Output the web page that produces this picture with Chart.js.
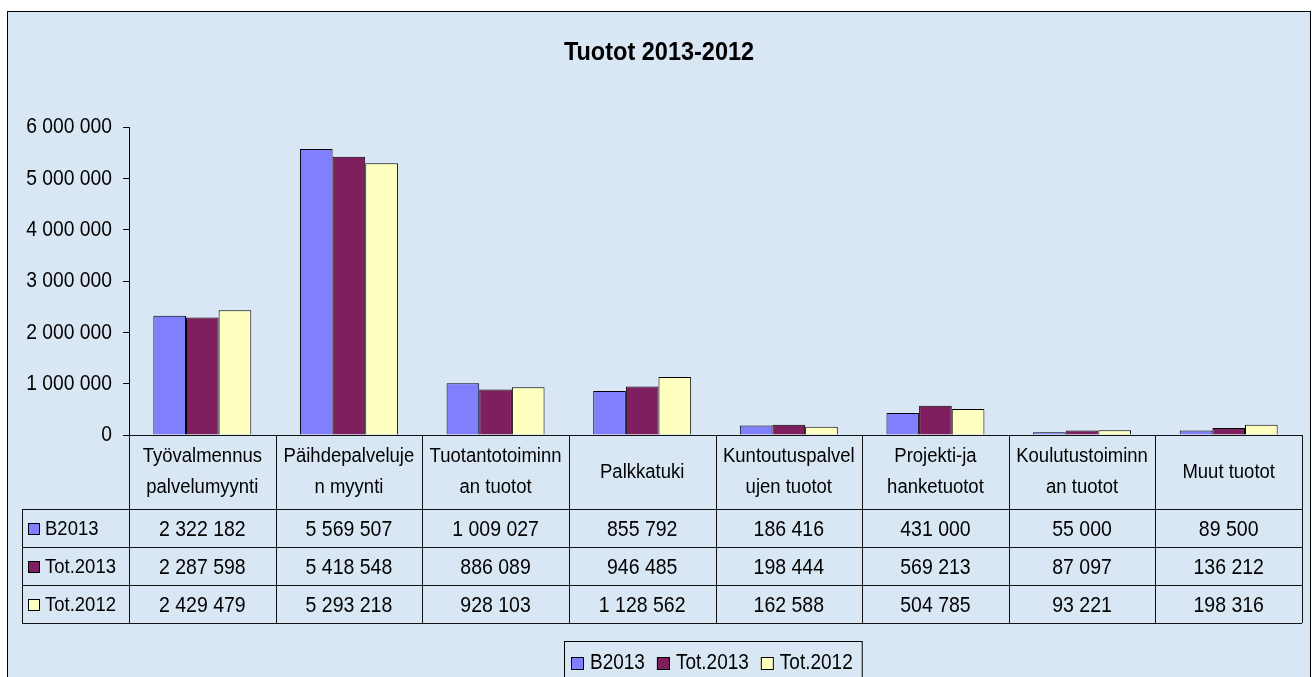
<!DOCTYPE html>
<html>
<head>
<meta charset="utf-8">
<script src="https://cdn.jsdelivr.net/npm/chart.js@4.4.1/dist/chart.umd.min.js"></script>
<style>
  html, body { margin: 0; padding: 0; background: #fff; overflow: hidden; }
  #frame {
    position: absolute; left: 7px; top: 11px; width: 1302px; height: 680px;
    border: 1px solid #000;
    background: #d9e7f5;
  }
  #chart { position: absolute; left: 0; top: 0; }
</style>
</head>
<body>
<div id="frame"></div>
<canvas id="chart" width="1312" height="677"></canvas>
<script>
// Tuotot 2013-2012
const chartTitle = 'Tuotot 2013-2012';
const categories = [
  ['Työvalmennus', 'palvelumyynti'],
  ['Päihdepalveluje', 'n myynti'],
  ['Tuotantotoiminn', 'an tuotot'],
  ['Palkkatuki'],
  ['Kuntoutuspalvel', 'ujen tuotot'],
  ['Projekti-ja', 'hanketuotot'],
  ['Koulutustoiminn', 'an tuotot'],
  ['Muut tuotot']
];
const seriesNames = ['B2013', 'Tot.2013', 'Tot.2012'];
const b2013 = [2322182, 5569507, 1009027, 855792, 186416, 431000, 55000, 89500];
const tot2013 = [2287598, 5418548, 886089, 946485, 198444, 569213, 87097, 136212];
const tot2012 = [2429479, 5293218, 928103, 1128562, 162588, 504785, 93221, 198316];
const seriesColors = ['#8080ff', '#7f1f5f', '#ffffc0'];
const yMax = 6000000;
const yStep = 1000000;

const allSeries = [b2013, tot2013, tot2012];

// 1234567 -> "1 234 567"
function fmt(v) {
  return String(v).replace(/\B(?=(\d{3})+(?!\d))/g, ' ');
}

// excel text looks a bit taller than it is wide, so stretch it vertically
function txt(ctx, s, x, y, font, sy, align) {
  ctx.save();
  ctx.font = font;
  ctx.fillStyle = '#000';
  ctx.textAlign = align || 'center';
  ctx.textBaseline = 'middle';
  ctx.translate(x, y);
  ctx.scale(1, sy);
  ctx.fillText(s, 0, 0);
  ctx.restore();
}

const FONT = '"Liberation Sans", Arial, sans-serif';

const tablePlugin = {
  id: 'excelTable',
  afterDraw(chart) {
    const ctx = chart.ctx;
    const a = chart.chartArea;
    const xs = chart.scales.x;
    const ys = chart.scales.y;

    // title, centred on the frame
    txt(ctx, chartTitle, 659, 53, 'bold 23.5px ' + FONT, 1.1);

    // y tick labels
    ys.ticks.forEach(t => {
      txt(ctx, fmt(t.value), a.left - 17, ys.getPixelForValue(t.value), '19.3px ' + FONT, 1.18, 'right');
    });

    // data table
    const n = categories.length;
    const colW = (a.right - a.left) / n;
    const top = a.bottom;
    const headH = 74;
    const rowH = 38;
    const leftX = 22;
    const bottom = top + headH + rowH * allSeries.length;

    ctx.save();
    ctx.strokeStyle = '#111';
    ctx.lineWidth = 1;
    ctx.beginPath();
    ctx.moveTo(a.left, top + 0.5);
    ctx.lineTo(a.right, top + 0.5);
    for (let r = 0; r <= allSeries.length; r++) {
      const yy = Math.round(top + headH + r * rowH) + 0.5;
      ctx.moveTo(leftX, yy);
      ctx.lineTo(a.right, yy);
    }
    for (let i = 0; i <= n; i++) {
      const xx = Math.round(xs.getPixelForValue(0) - colW / 2 + i * colW) + 0.5;
      ctx.moveTo(xx, top);
      ctx.lineTo(xx, bottom);
    }
    ctx.moveTo(leftX + 0.5, top + headH);
    ctx.lineTo(leftX + 0.5, bottom);
    ctx.stroke();
    ctx.restore();

    // category headers
    categories.forEach((lines, i) => {
      const cx = xs.getPixelForValue(i);
      const cy = top + headH / 2;
      if (lines.length === 1) {
        txt(ctx, lines[0], cx, cy, '18.5px ' + FONT, 1.12);
      } else {
        txt(ctx, lines[0], cx, cy - 15.5, '18.5px ' + FONT, 1.12);
        txt(ctx, lines[1], cx, cy + 15.5, '18.5px ' + FONT, 1.12);
      }
    });

    // series rows
    allSeries.forEach((vals, r) => {
      const cy = top + headH + r * rowH + rowH / 2 + 1;
      ctx.fillStyle = seriesColors[r];
      ctx.fillRect(28, cy - 6, 12, 12);
      ctx.strokeStyle = '#000';
      ctx.strokeRect(28.5, cy - 5.5, 11, 11);
      txt(ctx, seriesNames[r], 45, cy, '18.5px ' + FONT, 1.08, 'left');
      vals.forEach((v, i) => {
        txt(ctx, fmt(v), xs.getPixelForValue(i), cy + 1, '19.5px ' + FONT, 1.12);
      });
    });

    // legend box
    const lf = '19px ' + FONT;
    ctx.save();
    ctx.font = lf;
    const widths = seriesNames.map(s => ctx.measureText(s).width);
    ctx.restore();
    const sq = 13, gap = 6, sep = 12;
    let total = 6 + 10;
    widths.forEach((w, i) => { total += sq + gap + w + (i < widths.length - 1 ? sep : 0); });
    const lx = Math.round((a.left + a.right) / 2 - total / 2) - 3;
    const ly = 641;
    ctx.save();
    ctx.strokeStyle = '#000';
    ctx.strokeRect(lx + 0.5, ly + 0.5, total, 40);
    ctx.restore();
    let px = lx + 7;
    const lcy = 663;
    seriesNames.forEach((s, i) => {
      ctx.fillStyle = seriesColors[i];
      ctx.fillRect(px, lcy - 6, sq, sq);
      ctx.strokeStyle = '#000';
      ctx.strokeRect(px + 0.5, lcy - 5.5, sq - 1, sq - 1);
      px += sq + gap;
      txt(ctx, s, px, lcy, lf, 1.2, 'left');
      px += widths[i] + sep;
    });
  }
};

new Chart(document.getElementById('chart'), {
  type: 'bar',
  data: {
    labels: categories.map(c => c.join(' ')),
    datasets: seriesNames.map((name, k) => ({
      label: name,
      data: allSeries[k],
      backgroundColor: seriesColors[k],
      borderColor: '#000',
      borderWidth: 1,
      barPercentage: 1,
      categoryPercentage: 0.668
    }))
  },
  options: {
    responsive: false,
    animation: false,
    layout: { padding: { top: 127, left: 0, right: 10, bottom: 242 } },
    plugins: {
      legend: { display: false },
      title: { display: false },
      tooltip: { enabled: false }
    },
    scales: {
      x: { display: false },
      y: {
        min: 0,
        max: yMax,
        ticks: { stepSize: yStep, display: false },
        grid: { drawOnChartArea: false, drawTicks: true, tickLength: 6, color: '#000' },
        border: { display: true, color: '#000', width: 1 },
        afterFit(scale) { scale.width = 129; }
      }
    }
  },
  plugins: [tablePlugin]
});
</script>
</body>
</html>
